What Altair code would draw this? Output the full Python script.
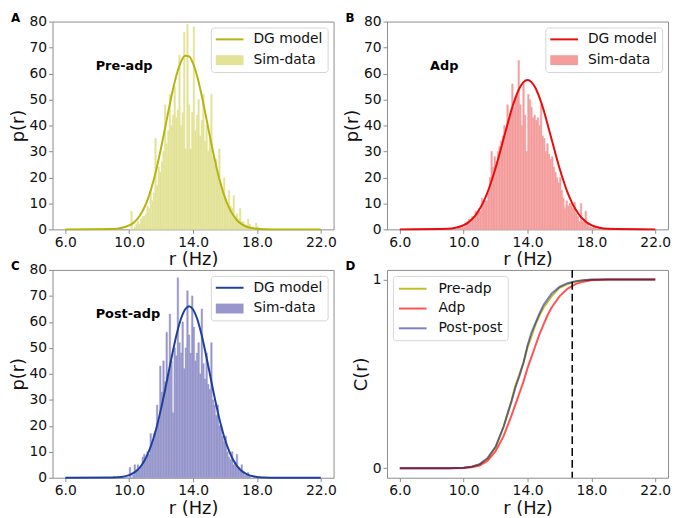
import altair as alt
import numpy as np
import pandas as pd

FONT = "DejaVu Sans"

# ---------------- data ----------------
X_TICKS = [6.0, 10.0, 14.0, 18.0, 22.0]
Y_TICKS = [0, 10, 20, 30, 40, 50, 60, 70, 80]
CDF_TICKS = [0, 1]
BIN_W = 0.1

pre_hist_start = 10.0
pre_hist = [0, 7, 0, 1, 2, 3, 2, 4, 5, 5,
            6, 9, 8, 15, 11, 14, 35, 17, 24, 22,
            26, 30, 48, 33, 38, 52, 40, 44, 55, 43,
            46, 67, 40, 45, 76, 31, 79, 48, 31, 45,
            78, 38, 44, 50, 36, 42, 52, 34, 40, 30,
            35, 52, 28, 25, 27, 21, 31, 18, 16, 20,
            12, 10, 15, 9, 8, 13, 5, 6, 4, 8,
            3, 3, 2, 1, 4, 2, 1, 1, 0, 2.5,
            1, 0, 0.5]

adp_hist_start = 9.6
adp_hist = [0.5, 1, 0.5, 1,
            1, 2, 3, 4, 3, 5, 4, 7, 6, 8,
            7, 12, 10, 11, 11, 14, 20, 30, 24, 28,
            26, 30, 32, 34, 36, 40, 38, 48, 42, 45,
            56, 47, 51, 52, 65, 48, 40, 56, 44, 30,
            52, 50, 47, 43, 44, 42, 43, 40, 48, 36,
            35, 30, 33, 29, 27, 28, 24, 22, 20, 18,
            20, 15, 12, 8, 11, 9, 10, 10, 8, 10.5,
            6, 5, 3, 10, 3, 4, 7, 2, 1, 1,
            0.5, 1, 0.5, 0, 0.5, 0, 0.3, 0, 0.5, 0,
            0.5, 0, 0.3]

post_hist_start = 9.0
post_hist = [0.5, 0, 0, 0, 0, 0, 0, 0, 0, 0,
             4, 0, 1, 5, 3, 5, 3, 4, 8, 9,
             7, 10, 9, 17, 13, 17, 18, 28, 22, 43,
             33, 45, 37, 56, 40, 63, 45, 25, 50, 47,
             77, 52, 48, 60, 42, 50, 72, 55, 48, 70,
             58, 45, 48, 52, 40, 65, 44, 38, 48, 36,
             34, 52, 30, 28, 24, 28, 20, 20, 16, 14,
             16, 10, 8, 7, 10, 5, 6, 9, 4, 3,
             5, 2, 1, 1, 2, 0.5]

curve_r = [6.0, 9.0, 9.5, 10.0, 10.25, 10.5, 10.75, 11.0, 11.25, 11.5, 11.75,
           12.0, 12.25, 12.5, 12.75, 13.0, 13.25, 13.5, 13.75, 14.0, 14.25,
           14.5, 14.75, 15.0, 15.25, 15.5, 15.75, 16.0, 16.25, 16.5, 16.75,
           17.0, 17.25, 17.5, 17.75, 18.0, 18.5, 19.0, 22.0]
pre_model = [0, 0.1, 0.5, 1.5, 2.4, 3.9, 6.1, 9.1, 13.1, 18.2, 24.4,
             31.4, 39.1, 46.8, 54.1, 60.2, 64.6, 66.8, 66.6, 63.9, 59.1,
             52.7, 45.3, 37.5, 30.0, 23.0, 17.1, 12.2, 8.4, 5.6, 3.5,
             2.2, 1.3, 0.7, 0.4, 0.2, 0.05, 0, 0]
adp_model = [0, 0.2, 0.6, 1.6, 2.5, 3.8, 5.5, 7.8, 10.7, 14.3, 18.7,
             23.6, 29.1, 34.9, 40.6, 46.1, 50.7, 54.4, 56.7, 57.5, 56.7,
             54.4, 50.7, 46.1, 40.6, 34.9, 29.1, 23.6, 18.7, 14.3, 10.7,
             7.8, 5.5, 3.8, 2.5, 1.6, 0.6, 0.2, 0]
post_model = [0, 0.1, 0.3, 1.0, 1.8, 2.9, 4.6, 7.0, 10.4, 14.7, 20.2,
              26.7, 33.9, 41.6, 49.1, 55.9, 61.3, 64.8, 66.0, 64.8, 61.3,
              55.9, 49.1, 41.6, 33.9, 26.7, 20.2, 14.7, 10.4, 7.0, 4.6,
              2.9, 1.8, 1.0, 0.6, 0.3, 0.1, 0, 0]

cdf_r = [6, 8, 9, 10, 10.5, 11, 11.5, 12, 12.5, 13, 13.25, 13.5, 13.75, 14,
         14.25, 14.5, 14.75, 15, 15.25, 15.5, 16, 16.5, 17, 17.5, 18, 19, 20, 22]
cdf_pre = [0, 0, 0, 0.003, 0.008, 0.02, 0.05, 0.11, 0.22, 0.36, 0.44, 0.50, 0.56, 0.64,
           0.70, 0.76, 0.81, 0.85, 0.88, 0.91, 0.955, 0.975, 0.988, 0.995, 0.998, 1, 1, 1]
cdf_adp = [0, 0, 0, 0.002, 0.006, 0.015, 0.04, 0.09, 0.17, 0.28, 0.34, 0.40, 0.46, 0.53,
           0.59, 0.65, 0.71, 0.76, 0.81, 0.85, 0.91, 0.95, 0.975, 0.988, 0.995, 1, 1, 1]
cdf_post = [0, 0, 0, 0.003, 0.009, 0.022, 0.055, 0.115, 0.22, 0.355, 0.43, 0.49, 0.56, 0.65,
            0.72, 0.77, 0.82, 0.865, 0.895, 0.925, 0.96, 0.98, 0.99, 0.996, 0.999, 1, 1, 1]
threshold_r = 16.8

annot_r = 7.9
annot_p = 63

# ---------------- layout / style ----------------
W, H = 284, 210
XS = alt.Scale(domain=[5.2, 22.8], nice=False, zero=False)
YS = alt.Scale(domain=[0, 80], nice=False)
YS_CDF = alt.Scale(domain=[-0.05, 1.05], nice=False)

X_AXIS = alt.Axis(values=X_TICKS, format=".1f", labelFlush=False, labelOverlap=False,
                  title="r (Hz)")
Y_AXIS = alt.Axis(values=Y_TICKS, format="d", labelOverlap=False, title="p(r)")
Y_AXIS_CDF = alt.Axis(values=CDF_TICKS, format="d", labelOverlap=False, title="C(r)")

LINE_PATH = "M-1,-0.143H3V0.143H-1Z"
RECT_PATH = "M-1,-0.714H3V0.714H-1Z"


def letter_mark(letter):
    df = pd.DataFrame({"letter": [letter]})
    return alt.Chart(df).mark_text(align="left", baseline="alphabetic", font=FONT,
                                   fontSize=12, fontWeight="bold", color="black").encode(
        x=alt.value(-42), y=alt.value(0), text="letter:N")


def hist_panel(letter, label, start, vals, model, line_color, fill_color):
    lo = np.round(start + BIN_W * np.arange(len(vals)), 2)
    hist_df = pd.DataFrame({"lo": lo, "hi": np.round(lo + BIN_W, 2), "p": vals,
                            "base": 0.0, "kind": "Sim-data"})
    curve_df = pd.DataFrame({"r": curve_r, "p": model, "kind": "DG model"})
    text_df = pd.DataFrame({"r": [annot_r], "p": [annot_p], "label": [label]})
    cs = alt.Scale(domain=["DG model", "Sim-data"], range=[line_color, fill_color])
    leg = alt.Legend(title=None, orient="top-right", offset=6, padding=5,
                     cornerRadius=3, strokeColor="#d4d4d4", fillColor="white",
                     labelFont=FONT, labelFontSize=14, labelColor="#111",
                     symbolSize=196, symbolStrokeWidth=0, labelOffset=24,
                     rowPadding=7,
                     symbolType=alt.ExprRef(
                         expr=f"datum.value === 'Sim-data' ? '{RECT_PATH}' : '{LINE_PATH}'"))
    xenc = alt.X("lo:Q", scale=XS, axis=X_AXIS)
    yenc = alt.Y("p:Q", scale=YS, axis=Y_AXIS)
    bars = alt.Chart(hist_df).mark_rect(strokeWidth=0.4).encode(
        x=xenc, x2="hi:Q", y=yenc, y2="base:Q",
        color=alt.Color("kind:N", scale=cs, legend=leg),
        stroke=alt.value(fill_color),
    )
    line = alt.Chart(curve_df).mark_line(strokeWidth=2, interpolate="monotone").encode(
        x=alt.X("r:Q", scale=XS, axis=X_AXIS), y=yenc,
        color=alt.Color("kind:N", scale=cs, legend=leg))
    text = alt.Chart(text_df).mark_text(align="left", baseline="middle", font=FONT,
                                        fontSize=13, fontWeight="bold",
                                        color="black").encode(
        x=alt.X("r:Q", scale=XS, axis=X_AXIS), y=yenc, text="label:N")
    return alt.layer(bars, line, text, letter_mark(letter)).properties(width=W, height=H)


A = hist_panel("A", "Pre-adp", pre_hist_start, pre_hist, pre_model, "#b5b50f", "#e3e398")
B = hist_panel("B", "Adp", adp_hist_start, adp_hist, adp_model, "#e80c0c", "#f49d9d")
C = hist_panel("C", "Post-adp", post_hist_start, post_hist, post_model, "#1f3f9f", "#9797cc")

# ---- panel D ----
series = ["Pre-adp", "Adp", "Post-post"]
cdf_df = pd.concat([
    pd.DataFrame({"r": cdf_r, "c": cdf_pre, "s": "Pre-adp"}),
    pd.DataFrame({"r": cdf_r, "c": cdf_adp, "s": "Adp"}),
    pd.DataFrame({"r": cdf_r, "c": cdf_post, "s": "Post-post"}),
])
dcs = alt.Scale(domain=series, range=["#b4b400", "#ff0000", "#000099"])
dos = alt.Scale(domain=series, range=[0.85, 0.5, 0.5])
legD = alt.Legend(title=None, orient="top-left", offset=6, padding=5,
                  cornerRadius=3, strokeColor="#d4d4d4", fillColor="white",
                  labelFont=FONT, labelFontSize=14, labelColor="#111",
                  symbolSize=196, symbolStrokeWidth=2, labelOffset=25, rowPadding=5,
                  symbolType="M-1,0H3")

layers = []
for s in series:
    enc = dict(
        x=alt.X("r:Q", scale=XS, axis=X_AXIS),
        y=alt.Y("c:Q", scale=YS_CDF, axis=Y_AXIS_CDF),
        color=alt.Color("s:N", scale=dcs, legend=legD),
        opacity=alt.Opacity("s:N", scale=dos, legend=legD),
    )
    layers.append(alt.Chart(cdf_df[cdf_df["s"] == s]).mark_line(strokeWidth=2).encode(**enc))

thr_df = pd.DataFrame({"r": [threshold_r]})
rule = alt.Chart(thr_df).mark_rule(color="black", strokeDash=[8, 4], strokeWidth=1.5).encode(
    x=alt.X("r:Q", scale=XS, axis=X_AXIS))
D = alt.layer(*layers, rule, letter_mark("D")).properties(width=W, height=H)

chart = alt.concat(A, B, C, D, columns=2, spacing={"row": 41, "column": 54},
                   bounds="flush").resolve_scale(
    color="independent", opacity="independent", x="independent", y="independent"
).resolve_legend(color="independent", opacity="independent").properties(
    padding=0
).configure_view(
    stroke="#8c8c8c", strokeWidth=1
).configure_axis(
    labelFont=FONT, titleFont=FONT, labelFontSize=14, titleFontSize=18,
    titleFontWeight="normal", tickSize=4, tickColor="#8c8c8c", domain=False,
    grid=False, labelColor="#111", titleColor="#111", labelPadding=2, titlePadding=2
)

chart.save("out.html", embed_options={"renderer": "svg", "actions": False})
